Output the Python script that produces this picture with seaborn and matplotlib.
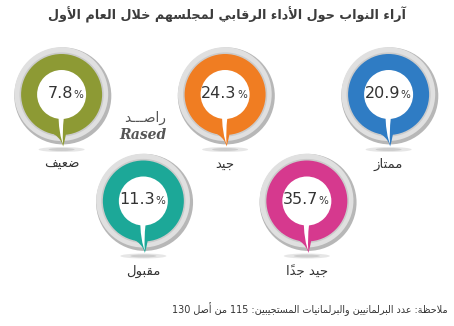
import numpy as np
import pandas as pd
import matplotlib
matplotlib.use("Agg")
import matplotlib.pyplot as plt
from matplotlib.patches import Circle, Ellipse, PathPatch
from matplotlib.path import Path
import seaborn as sns

# ---------------- data ----------------
title = "آراء النواب حول الأداء الرقابي لمجلسهم خلال العام الأول"
categories = ["ضعيف", "مقبول", "جيد", "جيد جداً", "ممتاز"]
values = [7.8, 11.3, 24.3, 35.7, 20.9]
colors = ["#8d9a34", "#1ca898", "#f07d22", "#d6398e", "#2f7cc4"]
note = "ملاحظة: عدد البرلمانيين والبرلمانيات المستجيبين: 115 من أصل 130"
logo_ar = "راصـــد"
logo_en = "Rased"

# ---------------- minimal Arabic shaping ----------------
FORMS = {
    '\u0621': ('\uFE80',),
    '\u0622': ('\uFE81', '\uFE82'),
    '\u0623': ('\uFE83', '\uFE84'),
    '\u0624': ('\uFE85', '\uFE86'),
    '\u0625': ('\uFE87', '\uFE88'),
    '\u0626': ('\uFE89', '\uFE8A', '\uFE8B', '\uFE8C'),
    '\u0627': ('\uFE8D', '\uFE8E'),
    '\u0628': ('\uFE8F', '\uFE90', '\uFE91', '\uFE92'),
    '\u0629': ('\uFE93', '\uFE94'),
    '\u062A': ('\uFE95', '\uFE96', '\uFE97', '\uFE98'),
    '\u062B': ('\uFE99', '\uFE9A', '\uFE9B', '\uFE9C'),
    '\u062C': ('\uFE9D', '\uFE9E', '\uFE9F', '\uFEA0'),
    '\u062D': ('\uFEA1', '\uFEA2', '\uFEA3', '\uFEA4'),
    '\u062E': ('\uFEA5', '\uFEA6', '\uFEA7', '\uFEA8'),
    '\u062F': ('\uFEA9', '\uFEAA'),
    '\u0630': ('\uFEAB', '\uFEAC'),
    '\u0631': ('\uFEAD', '\uFEAE'),
    '\u0632': ('\uFEAF', '\uFEB0'),
    '\u0633': ('\uFEB1', '\uFEB2', '\uFEB3', '\uFEB4'),
    '\u0634': ('\uFEB5', '\uFEB6', '\uFEB7', '\uFEB8'),
    '\u0635': ('\uFEB9', '\uFEBA', '\uFEBB', '\uFEBC'),
    '\u0636': ('\uFEBD', '\uFEBE', '\uFEBF', '\uFEC0'),
    '\u0637': ('\uFEC1', '\uFEC2', '\uFEC3', '\uFEC4'),
    '\u0638': ('\uFEC5', '\uFEC6', '\uFEC7', '\uFEC8'),
    '\u0639': ('\uFEC9', '\uFECA', '\uFECB', '\uFECC'),
    '\u063A': ('\uFECD', '\uFECE', '\uFECF', '\uFED0'),
    '\u0640': ('\u0640', '\u0640', '\u0640', '\u0640'),
    '\u0641': ('\uFED1', '\uFED2', '\uFED3', '\uFED4'),
    '\u0642': ('\uFED5', '\uFED6', '\uFED7', '\uFED8'),
    '\u0643': ('\uFED9', '\uFEDA', '\uFEDB', '\uFEDC'),
    '\u0644': ('\uFEDD', '\uFEDE', '\uFEDF', '\uFEE0'),
    '\u0645': ('\uFEE1', '\uFEE2', '\uFEE3', '\uFEE4'),
    '\u0646': ('\uFEE5', '\uFEE6', '\uFEE7', '\uFEE8'),
    '\u0647': ('\uFEE9', '\uFEEA', '\uFEEB', '\uFEEC'),
    '\u0648': ('\uFEED', '\uFEEE'),
    '\u0649': ('\uFEEF', '\uFEF0'),
    '\u064A': ('\uFEF1', '\uFEF2', '\uFEF3', '\uFEF4'),
}
LAMALEF = {'\u0622': ('\uFEF5', '\uFEF6'), '\u0623': ('\uFEF7', '\uFEF8'),
           '\u0625': ('\uFEF9', '\uFEFA'), '\u0627': ('\uFEFB', '\uFEFC')}


def is_mark(c):
    return '\u064B' <= c <= '\u0652'


def shape(text):
    items = []
    i = 0
    while i < len(text):
        c = text[i]
        if c == '\u0644' and i + 1 < len(text) and text[i + 1] in LAMALEF:
            items.append(('LA', text[i + 1]))
            i += 2
            continue
        items.append(('C', c))
        i += 1

    def jtype(it):
        kind, c = it
        if kind == 'LA':
            return 'R'
        if c in FORMS:
            return {1: 'U', 2: 'R', 4: 'D'}[len(FORMS[c])]
        if is_mark(c):
            return 'T'
        return None

    out = []
    n = len(items)
    for k, it in enumerate(items):
        jt = jtype(it)
        if jt in (None, 'T', 'U'):
            out.append(FORMS[it[1]][0] if jt == 'U' else it[1])
            continue
        p = k - 1
        while p >= 0 and jtype(items[p]) == 'T':
            p -= 1
        q = k + 1
        while q < n and jtype(items[q]) == 'T':
            q += 1
        jp = p >= 0 and jtype(items[p]) == 'D'
        jn = jt == 'D' and q < n and jtype(items[q]) in ('R', 'D')
        if it[0] == 'LA':
            out.append(LAMALEF[it[1]][1 if jp else 0])
            continue
        f = FORMS[it[1]]
        if jp and jn:
            out.append(f[3])
        elif jp:
            out.append(f[1])
        elif jn:
            out.append(f[2])
        else:
            out.append(f[0])
    clusters = []
    for ch in out:
        if is_mark(ch) and clusters:
            clusters[-1] += ch
        else:
            clusters.append(ch)
    clusters = clusters[::-1]
    res, run = [], []
    for cl in clusters:
        if cl.isdigit() or (run and cl in '.%'):
            run.append(cl)
        else:
            if run:
                res.extend(run[::-1])
                run = []
            res.append(cl)
    if run:
        res.extend(run[::-1])
    return ''.join(res)


# ---------------- layout ----------------
sns.set_theme(style="white")
plt.rcParams['font.family'] = ['DejaVu Sans']

W, H = 454, 326
fig = plt.figure(figsize=(W / 100, H / 100), dpi=100)
ax = fig.add_axes([0, 0, 1, 1])
ax.set_xlim(0, W)
ax.set_ylim(H, 0)
ax.set_aspect('equal')
ax.axis('off')

x0, dx = 61.6, 81.75
row_y = [94.5, 201.0]
R_GRAY, R_COL, R_IN = 48.5, 40.5, 24.5

idx = np.arange(len(categories))
df = pd.DataFrame({
    "label": categories,
    "val": values,
    "x": x0 + dx * idx,
    "y": [row_y[i % 2] for i in idx],
})

for _, r in df.iterrows():
    cx, cy = r["x"], r["y"]
    ax.add_patch(Ellipse((cx, cy + 55), 46, 5, color="#cfcfcf", alpha=0.5, lw=0, zorder=0))
    ax.add_patch(Ellipse((cx, cy + 55), 26, 3, color="#bdbdbd", alpha=0.6, lw=0, zorder=0))
    ax.add_patch(Circle((cx + 1.2, cy + 1.4), R_GRAY, color="#b7b7b7", lw=0, zorder=1))
    ax.add_patch(Circle((cx - 0.3, cy - 0.4), R_GRAY - 1.6, color="#e0e0e0", lw=0, zorder=1))
    ax.add_patch(Circle((cx, cy), R_COL + 1.6, color="#cbcbcb", lw=0, zorder=1))

s_col = (2 * R_COL * 72 / 100) ** 2
sns.scatterplot(data=df, x="x", y="y", hue="label", palette=colors, s=s_col,
                linewidth=0, legend=False, ax=ax, zorder=2)

MV, L4, C3 = Path.MOVETO, Path.LINETO, Path.CURVE3
codes = [MV, C3, C3, C3, C3, L4, L4]
for k, r in df.iterrows():
    cx, cy = r["x"], r["y"]
    col = colors[k]
    a1, a2 = np.deg2rad(130), np.deg2rad(84)
    p1 = (cx + R_COL * np.cos(a1), cy + R_COL * np.sin(a1))
    p2 = (cx + R_COL * np.cos(a2), cy + R_COL * np.sin(a2))
    tip = (cx + 1.5, cy + 52)
    verts = [p1, (cx - 1, cy + 39), tip, (cx + 3.5, cy + 45), p2, (cx, cy), p1]
    ax.add_patch(PathPatch(Path(verts, codes), color=col, lw=0, zorder=2))

    ax.add_patch(Circle((cx, cy), R_IN, color="white", lw=0, zorder=3))
    b1, b2 = np.deg2rad(97), np.deg2rad(85)
    q1 = (cx + R_IN * np.cos(b1), cy + R_IN * np.sin(b1))
    q2 = (cx + R_IN * np.cos(b2), cy + R_IN * np.sin(b2))
    wt = (cx + 1.4, cy + 49.5)
    verts = [q1, (cx - 2.5, cy + 40), wt, (cx + 0.6, cy + 37), q2, (cx, cy), q1]
    ax.add_patch(PathPatch(Path(verts, codes), color="white", lw=0, zorder=3))

    ax.text(cx + 11.5, cy - 1, f"{r['val']:.1f}", ha="right", va="center",
            fontsize=11.5, color="#333333", zorder=4)
    ax.text(cx + 12, cy, "%", ha="left", va="center",
            fontsize=7.5, color="#333333", zorder=4)
    ax.text(cx, cy + 70, shape(r["label"]), ha="center", va="center",
            fontsize=9.5, color="#333333", zorder=4)

ax.text(227, 15, shape(title), ha="center", va="center", fontsize=9.2,
        fontweight="bold", color="#3c3c3c")
ax.text(448, 309, shape(note), ha="right", va="center", fontsize=6.9,
        color="#333333")

ax.text(145, 118, shape(logo_ar), ha="center", va="center", fontsize=10,
        color="#555555")
ax.text(143, 135, logo_en, ha="center", va="center", fontsize=10,
        family="DejaVu Serif", style="italic", fontweight="bold", color="#555555")

fig.savefig("out.png", dpi=100, facecolor="white")
